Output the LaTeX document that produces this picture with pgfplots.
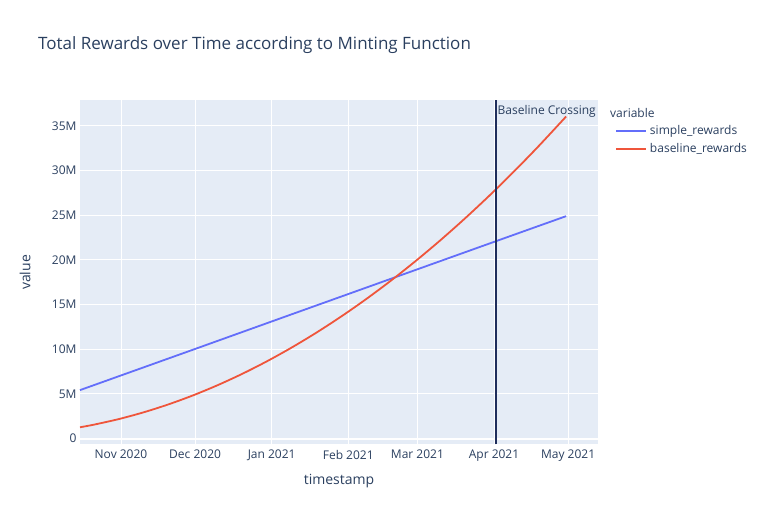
\documentclass[border=0pt]{standalone}
\usepackage{pgfplots}
\pgfplotsset{compat=1.18}
\usepackage{fontspec}
\setmainfont{Open Sans}
\definecolor{bgc}{HTML}{E5ECF6}
\definecolor{txt}{HTML}{2A3F5F}
\definecolor{c1}{HTML}{636EFA}
\definecolor{c2}{HTML}{EF553B}
\definecolor{vl}{HTML}{1F2E5C}
\begin{document}
\begin{tikzpicture}
\begin{axis}[
 name=ax, anchor=south west, at={(0pt,0pt)},
 width=518pt, height=344pt, scale only axis,
 xmin=14.4, xmax=224.1, ymin=-0.67, ymax=37.85,
 axis background/.style={fill=bgc},
 axis line style={draw=none},
 tick style={draw=none},
 grid=major, grid style={white, line width=1pt},
 xtick={31,61,92,123,151,182,212},
 xticklabels={Nov 2020,Dec 2020,Jan 2021,Feb 2021,Mar 2021,Apr 2021,May 2021},
 ytick={0,5,...,35},
 yticklabels={0,5M,10M,15M,20M,25M,30M,35M},
 ticklabel style={font=\fontsize{12}{14}\selectfont, text=txt},
 xticklabel style={yshift=-2pt},
 /pgf/number format/assume math mode=true,
 xlabel={timestamp}, ylabel={value},
 label style={font=\fontsize{14}{16}\selectfont, text=txt},
 xlabel style={at={(axis description cs:0.5,-0.106)}, anchor=center},
 ylabel style={at={(axis description cs:-0.106,0.5)}, anchor=center},
 legend style={name=leg, draw=none, fill=none, at={(axis description cs:1,1)}, anchor=north west, xshift=14pt, yshift=-22pt,
   font=\fontsize{12}{14}\selectfont, text=txt, row sep=5pt,
   nodes={inner xsep=3pt, inner ysep=1pt}},
 legend cell align=left,
 legend image code/.code={\draw[#1] (0pt,0pt) -- (30pt,0pt);},
 clip=false,
]
\draw[white, line width=2pt] ({rel axis cs:0,0}|-{axis cs:0,0}) -- ({rel axis cs:1,0}|-{axis cs:0,0});
\addplot[c1, line width=1.8pt] coordinates {(14.4,5.42) (60,9.93) (100,13.90) (140,17.86) (180,21.82) (211.2,24.90)};
\addlegendentry{simple\_rewards}
\addplot[c2, line width=1.8pt, smooth] coordinates {
(14.4,1.26) (20,1.550) (30,2.170) (40,2.921) (50,3.802) (60,4.814) (70,5.958) (80,7.231) (90,8.636) (100,10.172) (110,11.838) (120,13.635) (130,15.563) (140,17.622) (150,19.811) (160,22.131) (170,24.583) (180,27.164) (190,29.877) (200,32.721) (211.2,36.06)};
\addlegendentry{baseline\_rewards}
\addplot[vl, line width=2pt, forget plot] coordinates {(183,-0.67) (183,37.85)};
\node[anchor=north west, font=\fontsize{12}{14}\selectfont, text=txt, inner sep=1pt, yshift=-4pt] at (axis cs:183,37.85) {Baseline Crossing};
\end{axis}
\node[anchor=south west, font=\fontsize{12}{14}\selectfont, text=txt, inner sep=0pt] at ([xshift=-2pt,yshift=5pt]leg.north west) {variable};
\node[anchor=west, font=\fontsize{17}{20}\selectfont, text=txt, inner sep=0] at (-42pt,399.5pt) {Total Rewards over Time according to Minting Function};
\pgfresetboundingbox
\useasboundingbox (-80pt,-80.5pt) rectangle (684pt,444.5pt);
\end{tikzpicture}
\end{document}
